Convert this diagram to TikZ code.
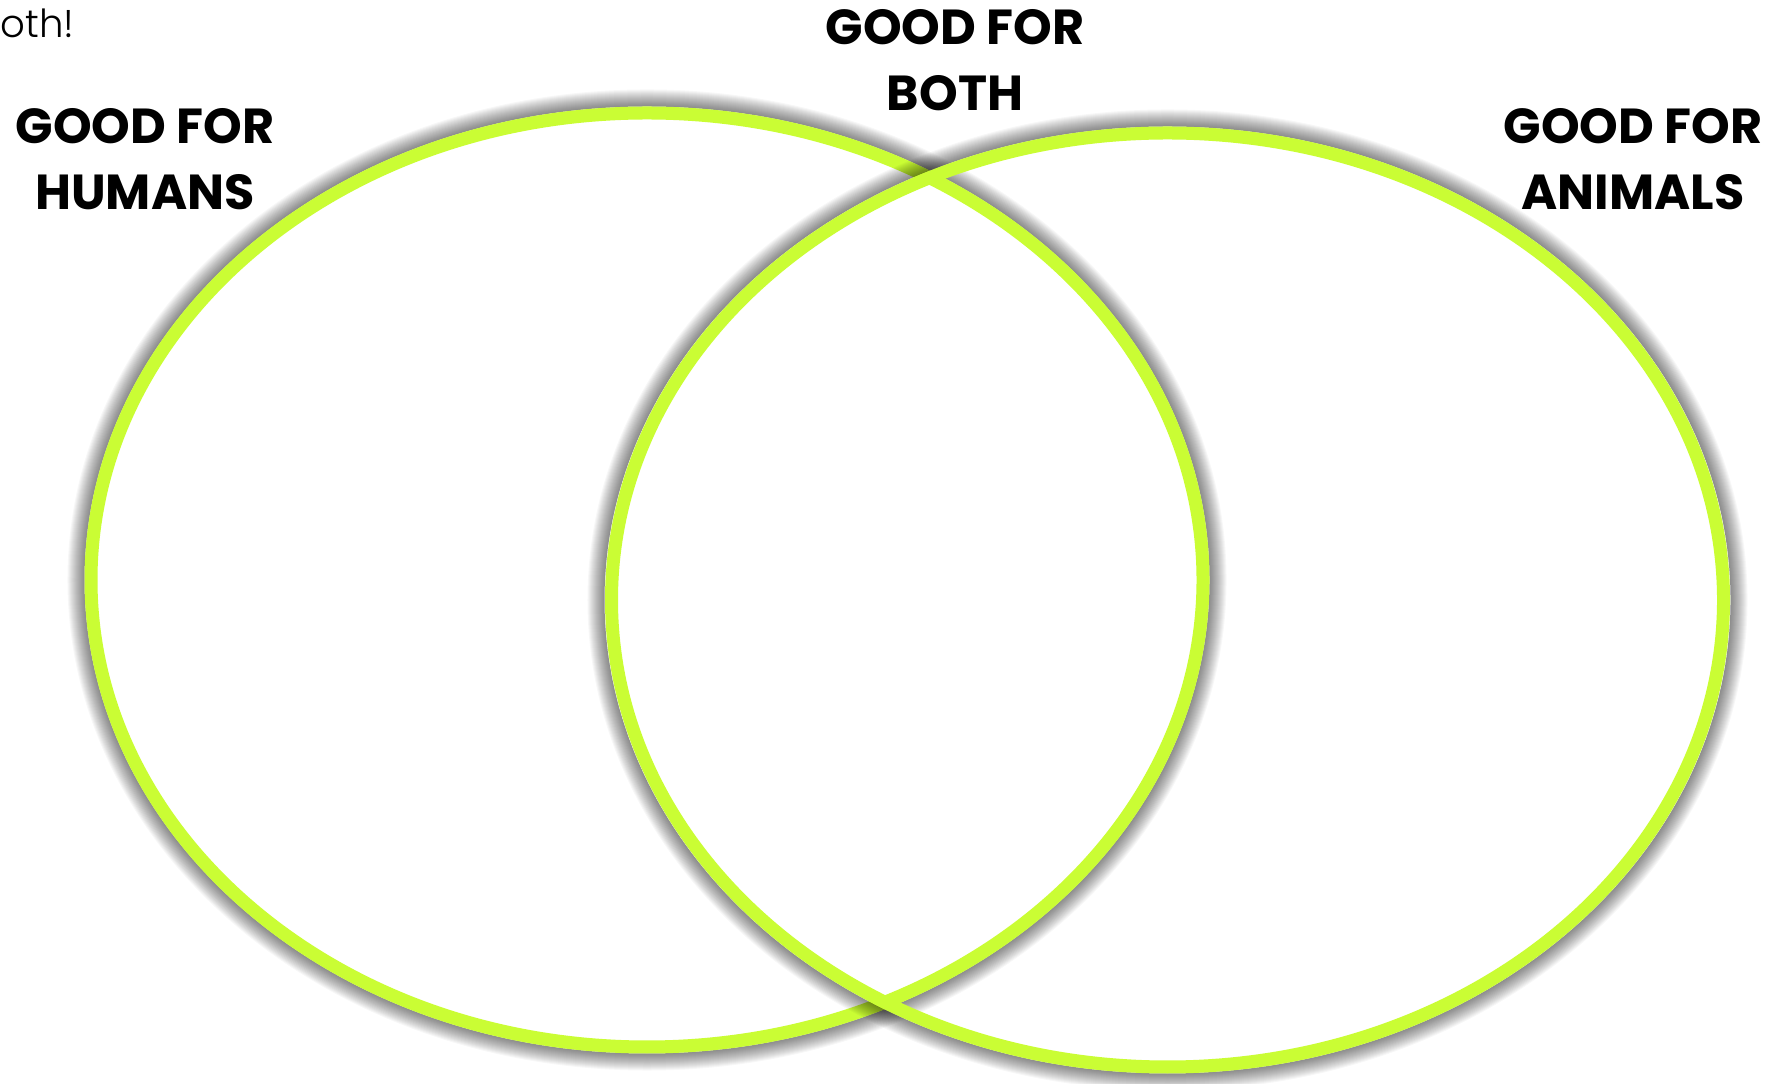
\documentclass[tikz,border=0pt]{standalone}
\usepackage{fontspec}
\setmainfont{Poppins}
\newfontfamily\thinfont{Poppins Light}
\usetikzlibrary{shapes.geometric}
\definecolor{lime}{RGB}{202, 253, 52}
\tikzset{
  ring/.style={draw=lime, line width=0.13cm, ellipse, minimum width=11.12cm, minimum height=9.34cm, inner sep=0pt},
  glow/.style={draw=black, opacity=0.033},
  heading/.style={align=center, font=\fontsize{14}{18.8}\selectfont\bfseries, inner sep=0pt}
}

\begin{document}
\begin{tikzpicture}
  \useasboundingbox (0,0) rectangle (17.82,10.83);
  \fill[white] (0,0) rectangle (17.82,10.83);

  % left ring
  \coordinate (hc) at (6.47,5.03);
  \foreach \d in {0.01,0.02,...,0.18}
    \draw[glow, line width=\d cm] (hc) ellipse ({5.625+\d/2} and {4.735+\d/2});
  \node [ring] (humans) at (hc) {};

  % right ring
  \coordinate (ac) at (11.675,4.83);
  \foreach \d in {0.01,0.02,...,0.18}
    \draw[glow, line width=\d cm] (ac) ellipse ({5.63+\d/2} and {4.735+\d/2});
  \node [ring] (animals) at (ac) {};

  \node [heading] (humanslbl) at (1.45,9.24) {GOOD FOR\\HUMANS};
  \node [heading] (bothlbl) at (9.55,10.23) {GOOD FOR\\BOTH};
  \node [heading] (animalslbl) at (16.33,9.24) {GOOD FOR\\ANIMALS};
  \node [anchor=west, inner sep=0pt, font=\thinfont\fontsize{11}{13}\selectfont] (note) at (0,10.60) {oth!};
\end{tikzpicture}
\end{document}
